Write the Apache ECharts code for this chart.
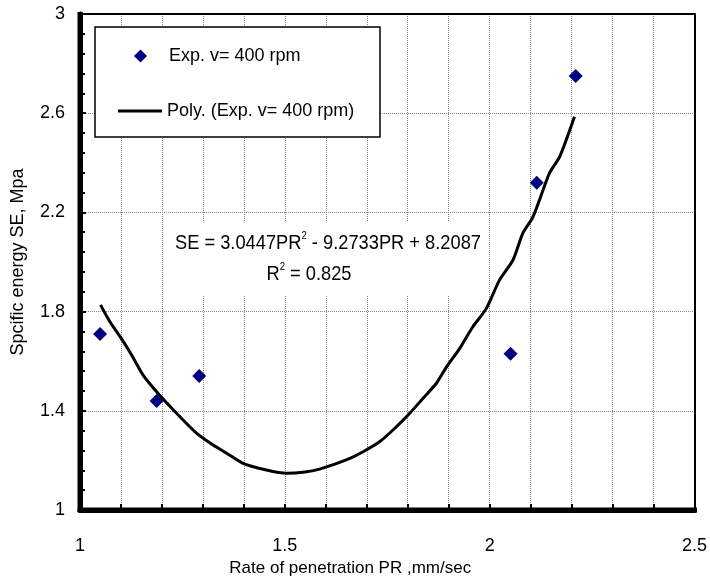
<!DOCTYPE html>
<html><head><meta charset="utf-8">
<script src="https://cdn.jsdelivr.net/npm/echarts@6/dist/echarts.min.js"></script>
<style>html,body{margin:0;padding:0;background:#fff}#c{width:710px;height:583px}</style>
</head><body><div id="c"></div>
<script>
// Experimental points
const expPR = [1.049, 1.187, 1.291, 2.051, 2.115, 2.210];
const expSE = [1.71, 1.44, 1.54, 1.63, 2.32, 2.75];
// Trend curve points
const fitPR = [1.050,1.073,1.098,1.126,1.154,1.187,1.220,1.244,1.285,1.325,1.358,1.398,1.455,1.504,1.545,1.585,1.650,1.691,1.732,1.772,1.805,1.837,1.870,1.894,1.927,1.959,1.992,2.024,2.057,2.081,2.106,2.146,2.171,2.207];
const fitSE = [1.827,1.759,1.699,1.625,1.544,1.477,1.417,1.376,1.309,1.262,1.229,1.188,1.161,1.148,1.152,1.165,1.202,1.235,1.276,1.335,1.390,1.450,1.511,1.575,1.652,1.739,1.813,1.927,2.008,2.116,2.183,2.358,2.425,2.586];
const xLabelTicks = [1, 1.5, 2, 2.5];
const yTicks = [1, 1.4, 1.8, 2.2, 2.6, 3];
const seriesNames = ['Exp. v= 400 rpm', 'Poly. (Exp. v= 400 rpm)'];
const equationLine1 = ['SE = 3.0447PR', '2', ' - 9.2733PR + 8.2087'];
const equationLine2 = ['R', '2', ' = 0.825'];

const FONT = "'Liberation Sans', Arial, sans-serif";
const chart = echarts.init(document.getElementById('c'), null, {renderer: 'canvas'});
const plainAxis = {
  type: 'value',
  axisLabel: {show: false}, axisTick: {show: false}, splitLine: {show: false},
  axisLine: {show: true, onZero: false, lineStyle: {color: '#000', width: 2}}
};
const eqRich = {
  a: {fontFamily: FONT, fontSize: 21, fill: '#000', lineHeight: 24, verticalAlign: 'bottom'},
  s: {fontFamily: FONT, fontSize: 11, fill: '#000', lineHeight: 24, verticalAlign: 'top'}
};
const G = {left: 80, top: 14, width: 615, height: 496};
chart.setOption({
  animation: false,
  backgroundColor: '#fff',
  textStyle: {fontFamily: FONT, color: '#000'},
  grid: {left: G.left, top: G.top, width: G.width, height: G.height, show: false},
  xAxis: [{
    type: 'value', min: 1, max: 2.5, interval: 0.1, position: 'bottom',
    name: 'Rate of penetration PR ,mm/sec', nameLocation: 'middle', nameGap: 49,
    nameTextStyle: {fontFamily: FONT, fontSize: 17, color: '#000', padding: [0, 74, 0, 0]},
    axisLine: {show: true, onZero: false, lineStyle: {color: '#000', width: 5}},
    axisTick: {show: true, inside: true, length: 6, lineStyle: {color: '#000', width: 2}},
    axisLabel: {
      fontFamily: FONT, fontSize: 18, color: '#000', margin: 27, showMaxLabel: true,
      formatter: v => xLabelTicks.some(t => Math.abs(t - v) < 1e-6) ? String(+v.toFixed(1)) : ''
    },
    splitLine: {show: true, lineStyle: {color: '#888', width: 1, type: [1, 1]}}
  }, Object.assign({}, plainAxis, {min: 1, max: 2.5, position: 'top'})],
  yAxis: [{
    type: 'value', min: 1, max: 3, interval: 0.4, position: 'left',
    name: 'Spcific energy SE, Mpa', nameLocation: 'middle', nameGap: 53,
    nameTextStyle: {fontFamily: FONT, fontSize: 18, color: '#000'},
    axisLine: {show: true, onZero: false, lineStyle: {color: '#000', width: 5}},
    axisTick: {show: true, inside: true, length: 6, lineStyle: {color: '#000', width: 2}},
    minorTick: {show: true, splitNumber: 5, length: 5, lineStyle: {color: '#000', width: 2}},
    axisLabel: {fontFamily: FONT, fontSize: 18, color: '#000', margin: 15,
      formatter: v => yTicks.some(t => Math.abs(t - v) < 1e-6) ? String(+v.toFixed(1)) : ''},
    splitLine: {show: true, lineStyle: {color: '#888', width: 1, type: [1, 1]}}
  }, Object.assign({}, plainAxis, {min: 1, max: 3, position: 'right'})],
  legend: [
    {
      data: [seriesNames[0]], left: 134, top: 47, padding: 0, orient: 'vertical',
      itemWidth: 13, itemHeight: 13, z: 5,
      formatter: '{g| }{t|{name}}',
      textStyle: {fontFamily: FONT, fontSize: 18, color: '#000',
        rich: {g: {width: 17, fontSize: 18}, t: {fontFamily: FONT, fontSize: 18, color: '#000'}}}
    },
    {
      data: [{name: seriesNames[1], icon: 'rect'}], left: 118, top: 102, padding: 0, orient: 'vertical',
      itemWidth: 44, itemHeight: 3, z: 5,
      itemStyle: {color: '#000', borderWidth: 0},
      textStyle: {fontFamily: FONT, fontSize: 18, color: '#000'}
    }
  ],
  graphic: [
    // heavy left and bottom frame lines
    {type: 'line', z: 6, shape: {x1: G.left, y1: G.top - 2, x2: G.left, y2: G.top + G.height + 2},
      style: {stroke: '#000', lineWidth: 5}},
    {type: 'line', z: 6, shape: {x1: G.left - 2, y1: G.top + G.height, x2: G.left + G.width + 2, y2: G.top + G.height},
      style: {stroke: '#000', lineWidth: 5}},
    {type: 'rect', z: 3, shape: {x: 95, y: 27, width: 285, height: 110},
      style: {fill: '#fff', stroke: '#000', lineWidth: 1.5}},
    {type: 'rect', z: 1, shape: {x: 164, y: 222, width: 323, height: 74},
      style: {fill: '#fff', stroke: null}},
    {type: 'text', z: 4, x: 328, y: 242, scaleX: 0.87,
      style: {
        text: '{a|' + equationLine1[0] + '}{s|' + equationLine1[1] + '}{a|' + equationLine1[2] + '}',
        align: 'center', verticalAlign: 'middle', rich: eqRich
      }},
    {type: 'text', z: 4, x: 309, y: 273, scaleX: 0.87,
      style: {
        text: '{a|' + equationLine2[0] + '}{s|' + equationLine2[1] + '}{a|' + equationLine2[2] + '}',
        align: 'center', verticalAlign: 'middle', rich: eqRich
      }}
  ],
  series: [
    {
      name: seriesNames[0], type: 'scatter', symbol: 'diamond', symbolSize: 14, z: 2,
      itemStyle: {color: '#000080', opacity: 1},
      data: expPR.map((x, i) => [x, expSE[i]])
    },
    {
      name: seriesNames[1], type: 'line', showSymbol: false, symbol: 'none', z: 2, smooth: 0.25,
      lineStyle: {color: '#000', width: 3}, itemStyle: {color: '#000'},
      data: fitPR.map((x, i) => [x, fitSE[i]])
    }
  ]
});
</script>
</body></html>
